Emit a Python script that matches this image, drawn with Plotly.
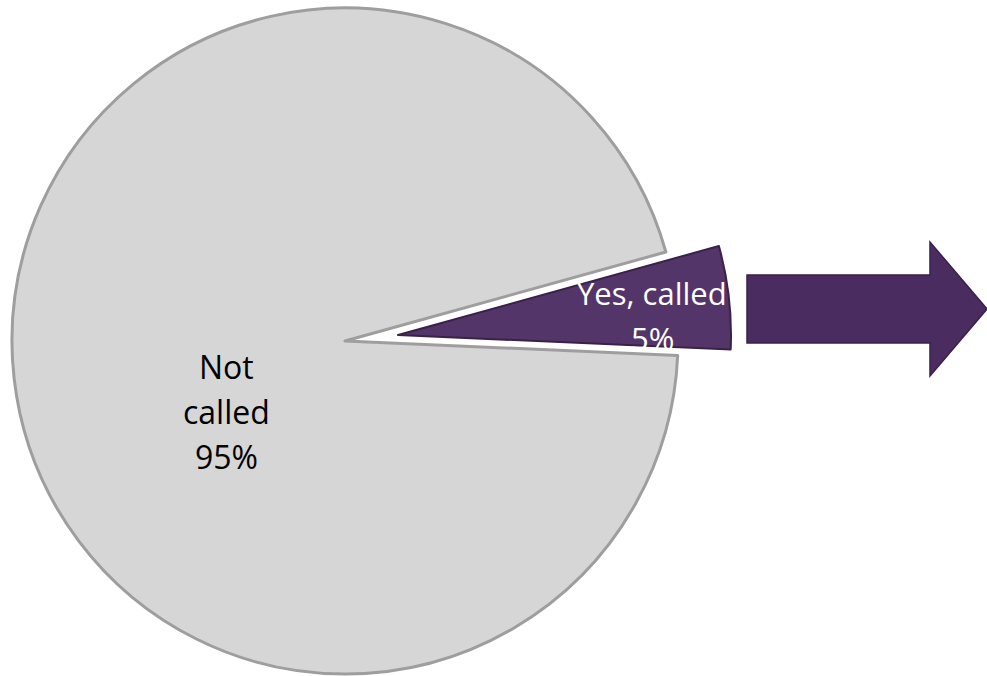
import plotly.graph_objects as go

# ---- data ----
labels = ["Yes, called", "Not called"]
values = [5, 95]
label_lines = [["Yes, called"], ["Not", "called"]]
slice_colors = ["#533569", "#D6D6D6"]
edge_colors = ["#3A2149", "#9E9E9E"]

W, H = 987, 676


def px_x(x):
    return x / W


def px_y(y):
    return 1 - y / H


def dom(cx, cy, r):
    return dict(x=[(cx - r) / W, (cx + r) / W], y=[1 - (cy + r) / H, 1 - (cy - r) / H])


fig = go.Figure()

# gray pie ("Not called"), with the notch left empty
fig.add_trace(go.Pie(
    labels=labels, values=values, sort=False, direction="clockwise", rotation=74.5,
    marker=dict(colors=["rgba(0,0,0,0)", slice_colors[1]],
                line=dict(color=["rgba(0,0,0,0)", edge_colors[1]], width=3)),
    textinfo="none", hoverinfo="skip", showlegend=False,
    domain=dom(345, 341, 333),
))

# purple exploded slice ("Yes, called")
fig.add_trace(go.Pie(
    labels=labels, values=values, sort=False, direction="clockwise", rotation=74.5,
    marker=dict(colors=[slice_colors[0], "rgba(0,0,0,0)"],
                line=dict(color=[edge_colors[0], "rgba(0,0,0,0)"], width=2)),
    textinfo="none", hoverinfo="skip", showlegend=False,
    domain=dom(398, 335, 333),
))

# labels
pct = [f"{v}%" for v in values]
lbl_font = "Open Sans"
# Not called
g_lines = label_lines[1] + [pct[1]]
g_y = [366, 411, 457]
for t, yy in zip(g_lines, g_y):
    fig.add_annotation(x=px_x(226), y=px_y(yy), xref="paper", yref="paper", text=t,
                       showarrow=False, font=dict(family=lbl_font, size=32, color="#000000"),
                       xanchor="center", yanchor="middle")
# Yes, called
p_lines = label_lines[0] + [pct[0]]
p_y = [293, 338]
for t, yy in zip(p_lines, p_y):
    fig.add_annotation(x=px_x(652), y=px_y(yy), xref="paper", yref="paper", text=t,
                       showarrow=False, font=dict(family=lbl_font, size=31, color="#FFFFFF"),
                       xanchor="center", yanchor="middle")

# block arrow
pts = [(747, 275), (930, 275), (930, 242), (987, 309), (930, 376), (930, 343), (747, 343)]
path = "M " + " L ".join(f"{px_x(x):.5f},{px_y(y):.5f}" for x, y in pts) + " Z"
fig.add_shape(type="path", path=path, xref="paper", yref="paper",
              fillcolor="#4B2C60", line=dict(color="#3A2149", width=1.5))

fig.update_layout(
    width=W, height=H,
    margin=dict(l=0, r=0, t=0, b=0),
    paper_bgcolor="#FFFFFF", plot_bgcolor="#FFFFFF",
    showlegend=False,
)

fig.write_html("out.html")
